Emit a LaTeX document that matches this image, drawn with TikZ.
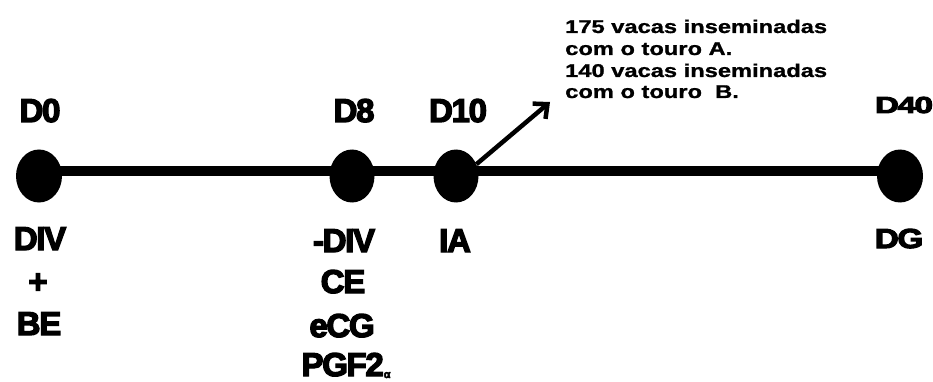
\documentclass[tikz,border=0pt]{standalone}
\usepackage{fontspec}
\setmainfont{Liberation Sans}
\newfontfamily\heavy[FakeBold=4,LetterSpace=-4]{Liberation Sans Bold}
\newfontfamily\notefont[FakeBold=1]{Liberation Sans Bold}
\usetikzlibrary{arrows.meta,shapes.geometric}
\tikzset{
  dot/.style={ellipse,fill=black,minimum width=46pt,minimum height=53pt,inner sep=0pt},
  lbl/.style={anchor=base,inner sep=0pt,font=\heavy\fontsize{33}{33}\selectfont},
  note/.style={anchor=base west,inner sep=0pt,align=left,font=\notefont\fontsize{18.5}{18.5}\selectfont},
}
\begin{document}
\begin{tikzpicture}[x=1pt,y=-1pt]
\useasboundingbox[fill=white] (0,0) rectangle (933,382);
% timeline
\coordinate (L0) at (39,171);
\coordinate (L40) at (900,171);
\draw[line width=9pt] (L0) -- (L40);
\node[dot] (d0) at (39,176) {};
\node[dot,minimum width=45pt] (d8) at (352,176) {};
\node[dot,minimum width=45pt] (d10) at (456,176) {};
\node[dot] (d40) at (900,176) {};
% top labels
\node[lbl] (t0) at (40,122) {D0};
\node[lbl] (t8) at (354,122) {D8};
\node[lbl] (t10) at (458,122) {D10};
\node[lbl] (t40) at (904,113) {\scalebox{1}[0.7]{D40}};
% bottom labels
\node[lbl] (b0a) at (40,250) {DIV};
\node[lbl] (b0b) at (38,293) {+};
\node[lbl] (b0c) at (39,335) {BE};
\node[lbl] (b8a) at (344,252) {-DIV};
\node[lbl] (b8b) at (343,293) {CE};
\node[lbl] (b8c) at (342,337) {eCG};
\node[lbl] (b8d) at (346,376) {PGF2\raisebox{-2pt}{\fontsize{11}{11}\selectfont α}};
\node[lbl] (b10) at (455,252) {IA};
\node[lbl] (b40) at (899,248) {\scalebox{1}[0.83]{DG}};
% note
\coordinate (tip) at (550,102);
\node[note] (n1) at (565,33) {\scalebox{1.28}[1]{175 vacas inseminadas}};
\node[note] (n2) at (565,55) {\scalebox{1.28}[1]{com o touro A.}};
\node[note] (n3) at (565,77) {\scalebox{1.28}[1]{140 vacas inseminadas}};
\node[note] (n4) at (565,98) {\scalebox{1.28}[1]{com o touro\ \ B.}};
\draw[line width=4.5pt,-{Straight Barb[length=11pt,width=20pt,line width=4.5pt]}] (d10.30) -- (tip);
\end{tikzpicture}
\end{document}
